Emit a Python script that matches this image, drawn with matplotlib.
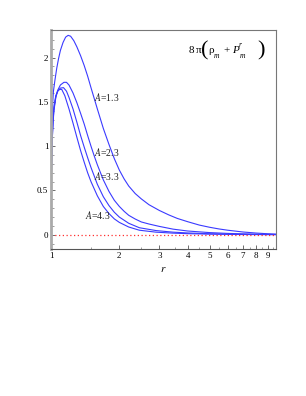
import matplotlib
matplotlib.use("Agg")
import matplotlib.pyplot as plt
from matplotlib.ticker import FixedLocator, NullFormatter

plt.rcParams['font.family'] = ['Liberation Serif', 'DejaVu Serif']
plt.rcParams['mathtext.fontset'] = 'stix'

# ---- data ----
r_a13 = [1.0, 1.002, 1.005, 1.01, 1.015, 1.025, 1.04, 1.06, 1.08, 1.1, 1.13, 1.16, 1.19, 1.22,
         1.26, 1.3, 1.35, 1.4, 1.45, 1.5, 1.6, 1.7, 1.8, 1.9, 2.0, 2.1, 2.2, 2.35, 2.5, 2.7,
         3.0, 3.3, 3.6, 4.0, 4.5, 5.0, 5.5, 6.0, 7.0, 8.0, 9.0, 9.8]
v_a13 = [0.17, 0.5, 0.9, 1.25, 1.45, 1.62, 1.74, 1.88, 1.99, 2.08, 2.17, 2.23, 2.25, 2.24,
         2.19, 2.12, 2.02, 1.91, 1.79, 1.66, 1.42, 1.2, 1.02, 0.86, 0.73, 0.63, 0.55, 0.465, 0.405, 0.34,
         0.275, 0.225, 0.185, 0.148, 0.11, 0.085, 0.066, 0.052, 0.032, 0.02, 0.012, 0.008]

r_a23 = [1.0, 1.002, 1.005, 1.01, 1.02, 1.03, 1.05, 1.07, 1.1, 1.14, 1.17, 1.2, 1.25, 1.3,
         1.35, 1.4, 1.45, 1.5, 1.55, 1.6, 1.7, 1.8, 1.9, 2.0, 2.1, 2.2, 2.35, 2.5, 2.7, 3.0,
         3.45, 4.0, 5.0, 6.0, 7.0, 8.0, 9.8]
v_a23 = [0.17, 0.45, 0.75, 1.0, 1.25, 1.4, 1.55, 1.63, 1.69, 1.72, 1.72, 1.69, 1.6, 1.49,
         1.37, 1.25, 1.12, 1.0, 0.89, 0.79, 0.62, 0.49, 0.39, 0.32, 0.265, 0.22, 0.178, 0.145, 0.122, 0.095,
         0.064, 0.043, 0.025, 0.016, 0.011, 0.007, 0.004]

r_a33 = [1.0, 1.002, 1.005, 1.01, 1.02, 1.03, 1.05, 1.07, 1.1, 1.135, 1.17, 1.2, 1.25, 1.3,
         1.35, 1.4, 1.45, 1.5, 1.6, 1.7, 1.8, 1.9, 2.0, 2.2, 2.45, 2.9, 3.45, 4.0, 5.0, 6.5, 9.8]
v_a33 = [0.17, 0.45, 0.75, 1.0, 1.27, 1.42, 1.56, 1.62, 1.655, 1.66, 1.62, 1.55, 1.42, 1.27,
         1.12, 0.99, 0.87, 0.76, 0.57, 0.43, 0.33, 0.255, 0.2, 0.13, 0.08, 0.048, 0.03, 0.021, 0.012, 0.006, 0.003]

r_a43 = [1.0, 1.002, 1.005, 1.01, 1.02, 1.03, 1.05, 1.07, 1.09, 1.115, 1.15, 1.2, 1.25, 1.3,
         1.35, 1.4, 1.45, 1.5, 1.6, 1.7, 1.8, 1.9, 2.0, 2.2, 2.45, 2.9, 3.45, 4.0, 5.0, 6.5, 9.8]
v_a43 = [0.17, 0.45, 0.78, 1.05, 1.3, 1.45, 1.57, 1.62, 1.64, 1.64, 1.57, 1.42, 1.26, 1.1,
         0.95, 0.82, 0.7, 0.6, 0.44, 0.32, 0.24, 0.18, 0.14, 0.088, 0.052, 0.03, 0.019, 0.013, 0.008, 0.004, 0.002]

curve_labels = ["$A$=1.3", "$A$=2.3", "$A$=3.3", "$A$=4.3"]
label_pos = [(1.55, 1.556), (1.55, 0.936), (1.55, 0.665), (1.41, 0.225)]

x_ticks = [1, 2, 3, 4, 5, 6, 7, 8, 9]
y_ticks = [0, 0.5, 1, 1.5, 2]
y_ticklabels = ["0", "0.5", "1", "1.5", "2"]

W, H = 306, 396
fig = plt.figure(figsize=(W / 100, H / 100), dpi=100)
ax = fig.add_axes([0.1667, 0.3712, 0.7353, 0.553])

blue = '#3a3aff'
for rr, vv in [(r_a13, v_a13), (r_a23, v_a23), (r_a33, v_a33), (r_a43, v_a43)]:
    ax.plot(rr, vv, color=blue, lw=0.8)

ax.plot([1.0, 9.8], [0, 0], color='#ff3030', lw=0.9, ls=(0, (1, 2)))

ax.set_xscale('log')
ax.set_xlim(1.0, 9.8)
ax.set_ylim(-0.16, 2.31)

ax.xaxis.set_major_locator(FixedLocator(x_ticks))
ax.set_xticklabels([str(t) for t in x_ticks])
ax.xaxis.set_minor_locator(FixedLocator([1.5, 2.5, 3.5, 4.5, 5.5, 6.5, 7.5, 8.5, 9.5]))
ax.xaxis.set_minor_formatter(NullFormatter())
ax.set_yticks(y_ticks)
ax.set_yticklabels(y_ticklabels)
ax.yaxis.set_minor_locator(FixedLocator([-0.1] + [i * 0.1 for i in range(1, 23) if i % 5 != 0]))

ax.tick_params(axis='both', which='major', direction='in', length=3, width=0.6,
               labelsize=6.5, colors='#555555', labelcolor='black', pad=2)
ax.tick_params(axis='both', which='minor', direction='in', length=1.8, width=0.5, colors='#777777')

for side in ['top', 'right', 'bottom']:
    ax.spines[side].set_color('#777777')
    ax.spines[side].set_linewidth(0.8)
ax.spines['left'].set_color('#aaaaaa')
ax.spines['left'].set_linewidth(2.0)
ax.spines['bottom'].set_color('#555555')

for lab, (x, y) in zip(curve_labels, label_pos):
    ax.text(x, y, lab, fontsize=7, ha='left', va='center', color='#222222')


# annotation: 8 pi ( rho_m + P^r_m ), placed piece by piece (pixel coords)
def ptext(px, py, s, size, style='normal', va='baseline'):
    fig.text(px / W, 1 - py / H, s, fontsize=size, style=style, ha='left', va=va)


ptext(188.5, 53, '8', 8)
ptext(195.5, 53, 'π', 8)
ptext(201.5, 51, '(', 16, va='center')
ptext(208, 53, 'ρ', 8)
ptext(214, 58.5, 'm', 5.5, style='italic')
ptext(223, 53, '+', 8)
ptext(232, 53, 'P', 8, style='italic')
ptext(239, 47, 'r', 5.5, style='italic')
ptext(239.5, 58.5, 'm', 5.5, style='italic')
ptext(257.5, 51, ')', 16, va='center')

ax.set_xlabel(r'$r$', fontsize=8, labelpad=4)

fig.savefig('out.png', dpi=100)
